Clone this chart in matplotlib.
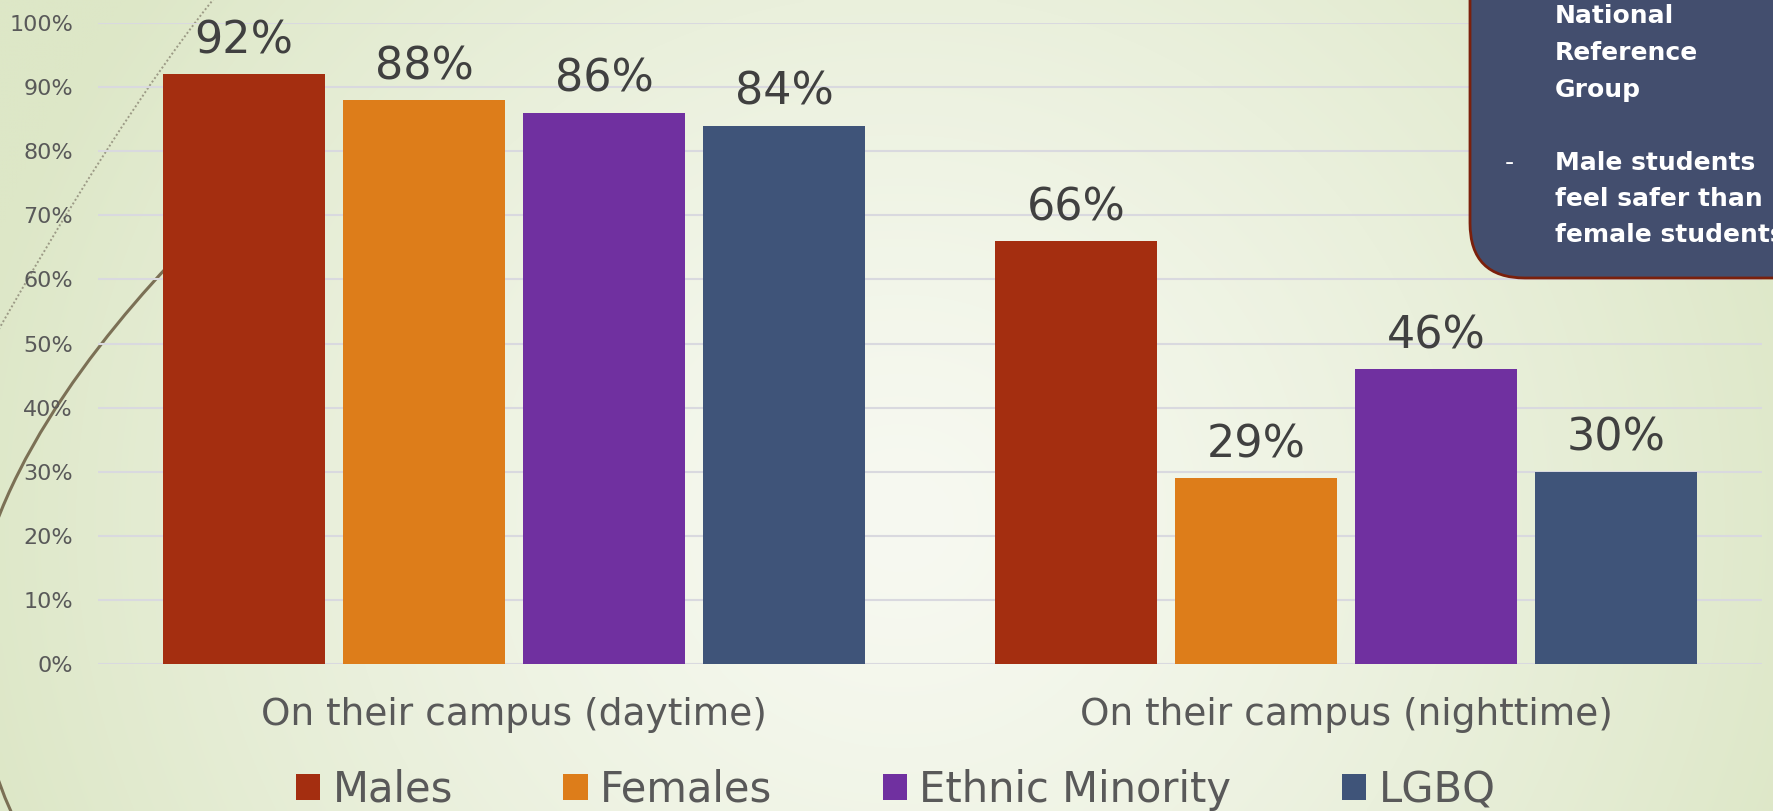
import matplotlib.pyplot as plt
import numpy as np
from matplotlib.patches import FancyBboxPatch, PathPatch, Patch
from matplotlib.path import Path

# chart data
categories = ['On their campus (daytime)', 'On their campus (nighttime)']
groups = ['Males', 'Females', 'Ethnic Minority', 'LGBQ']
males = [92, 66]
females = [88, 29]
ethnic_minority = [86, 46]
lgbq = [84, 30]
y_ticks = [0, 10, 20, 30, 40, 50, 60, 70, 80, 90, 100]
box_title = ['National', 'Reference', 'Group']
box_note = ['Male students', 'feel safer than', 'female students']

colors = ['#A42E10', '#DD7D1A', '#7030A0', '#3F5479']
W, H = 1773, 811

plt.rcParams['font.family'] = ['DejaVu Sans']
fig = plt.figure(figsize=(W / 100, H / 100), dpi=100)

# background with soft gradient and decorative curves (pixel coords, y down)
bg = fig.add_axes([0, 0, 1, 1], zorder=-10)
xx, yy = np.meshgrid(np.arange(0, W, 4), np.arange(0, H, 4))
d = np.sqrt(((xx - 900) / 950.0) ** 2 + ((yy - 520) / 900.0) ** 2)
t = np.clip(d, 0, 1) ** 1.3
c0 = np.array([247, 249, 241]) / 255.0
c1 = np.array([221, 231, 199]) / 255.0
img = c0[None, None, :] * (1 - t[..., None]) + c1[None, None, :] * t[..., None]
bg.imshow(img, extent=[0, W, H, 0], aspect='auto', interpolation='bilinear')
bg.set_xlim(0, W)
bg.set_ylim(H, 0)
bg.axis('off')

# brown swoosh on the left
verts = [(168, 266), (80, 360), (-40, 520), (-25, 660), (-15, 760), (5, 800), (20, 830)]
codes = [Path.MOVETO, Path.CURVE4, Path.CURVE4, Path.CURVE4, Path.CURVE4, Path.CURVE4, Path.CURVE4]
bg.add_patch(PathPatch(Path(verts, codes), fill=False, edgecolor='#7b7055', lw=2.2))
# thin dotted arc
verts2 = [(225, -15), (150, 75), (60, 220), (-10, 345)]
codes2 = [Path.MOVETO, Path.CURVE4, Path.CURVE4, Path.CURVE4]
bg.add_patch(PathPatch(Path(verts2, codes2), fill=False, edgecolor='#9c9a86',
                       lw=1.4, linestyle=(0, (1, 1.2))))

# main chart
ax = fig.add_axes([98 / W, 1 - 664 / H, (1762 - 98) / W, (664 - 23) / H])
ax.patch.set_alpha(0)
x = np.arange(len(categories))
step = 180 / 832
width = 162 / 832
series = [males, females, ethnic_minority, lgbq]
for i, vals in enumerate(series):
    pos = x + (i - 1.5) * step
    ax.bar(pos, vals, width, color=colors[i], zorder=3, label=groups[i])
    for px, v in zip(pos, vals):
        ax.annotate(f'{v}%', (px, v), xytext=(0, 15), textcoords='offset points',
                    ha='center', va='baseline', fontsize=32, color='#404040')

ax.set_xlim(-0.5, 1.5)
ax.set_ylim(0, 100)
ax.set_yticks(y_ticks)
ax.set_yticklabels([f'{v}%' for v in y_ticks], fontsize=16, color='#595959')
ax.set_xticks(x)
ax.set_xticklabels(categories, fontsize=27, color='#595959')
ax.tick_params(axis='y', length=0, pad=18)
ax.tick_params(axis='x', length=0, pad=24)
ax.grid(axis='y', color='#d9d9df', lw=1.5, zorder=0)
for s in ax.spines.values():
    s.set_visible(False)

handles = [Patch(facecolor=c, edgecolor='none') for c in colors]
fig.legend(handles, groups, loc='center left', bbox_to_anchor=(296 / W, 1 - 790 / H),
           ncol=4, frameon=False, fontsize=30, labelcolor='#595959',
           handlelength=0.58, handleheight=0.58, handletextpad=0.3,
           columnspacing=2.65, borderpad=0, borderaxespad=0)

# callout box on the top right
ov = fig.add_axes([0, 0, 1, 1], zorder=5)
ov.patch.set_alpha(0)
ov.set_xlim(0, W)
ov.set_ylim(H, 0)
ov.axis('off')
ov.add_patch(FancyBboxPatch((1470, -200), 500, 478, boxstyle='round,pad=0,rounding_size=55',
                            facecolor='#434E6E', edgecolor='#7B200C', lw=2))
baselines = [23, 60, 97]
for line, yb in zip(box_title, baselines):
    ov.text(1555, yb, line, color='white', fontsize=18, fontweight='bold', va='baseline')
baselines = [170, 206, 242]
for line, yb in zip(box_note, baselines):
    ov.text(1555, yb, line, color='white', fontsize=18, fontweight='bold', va='baseline')
ov.text(1505, 170, '-', color='white', fontsize=18, va='baseline')

fig.savefig('out.png', dpi=100)
